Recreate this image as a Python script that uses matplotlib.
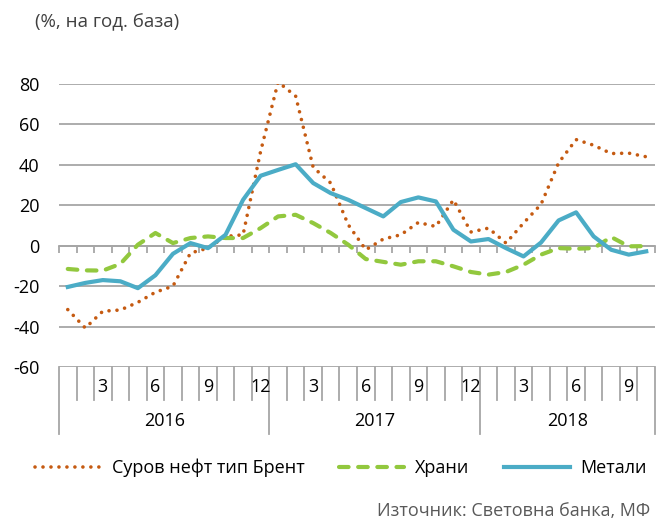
import numpy as np
import matplotlib
matplotlib.use("Agg")
import matplotlib.pyplot as plt

plt.rcParams['font.family'] = ['Open Sans', 'DejaVu Sans']
plt.rcParams['axes.unicode_minus'] = False

# months Jan 2016 .. Oct 2018
years = ['2016', '2017', '2018']
months_per_year = [12, 12, 10]
month_labels = ['', '', '3', '', '', '6', '', '', '9', '', '', '12']

brent = [-31.6, -40.7, -32.4, -31.8, -28.0, -23.0, -20.0, -3.6, -1.2, 4.6, 5.4, 46.6,
         81.0, 74.0, 38.8, 31.0, 10.4, -2.0, 3.3, 5.4, 11.5, 9.5, 22.7, 6.8,
         8.7, 1.3, 11.2, 20.5, 41.0, 52.5, 49.7, 45.6, 45.8, 44.0]
food = [-11.5, -12.2, -12.3, -9.0, 0.5, 6.3, 1.3, 3.8, 4.6, 3.8, 3.8, 8.7,
        14.5, 15.3, 11.2, 6.3, 0.5, -6.6, -8.0, -9.4, -7.7, -7.7, -10.2, -13.0,
        -14.3, -13.0, -9.4, -4.4, -1.2, -1.5, -1.2, 4.3, -0.3, -0.2]
metals = [-20.4, -18.4, -17.0, -17.6, -21.0, -14.6, -4.0, 1.3, -1.2, 5.4, 22.7, 34.6,
          37.5, 40.3, 31.0, 26.0, 22.7, 18.6, 14.5, 21.6, 23.9, 21.9, 7.9, 2.1,
          3.3, -1.2, -5.3, 1.6, 12.5, 16.5, 4.6, -2.0, -4.4, -2.8]

series_names = ['Суров нефт тип Брент', 'Храни', 'Метали']

GRID = '#A6A6A6'
FS = 13
n = len(brent)
x = np.arange(n)

fig = plt.figure(figsize=(6.57, 5.2), dpi=100)
ax = fig.add_axes([59 / 657, 1 - 367 / 520, 596 / 657, 283 / 520])

ax.plot(x, brent, color='#C55A11', lw=2.6, linestyle=(0, (0.01, 2.2)),
        dash_capstyle='round', label=series_names[0], zorder=3)
ax.plot(x, food, color='#92C83E', lw=3.0, linestyle=(0, (2.3, 2.3)),
        dash_capstyle='round', label=series_names[1], zorder=3)
ax.plot(x, metals, color='#4BACC6', lw=3.0, label=series_names[2], zorder=4)

ax.set_xlim(-0.5, n - 0.5)
ax.set_ylim(-60, 80)
ax.set_yticks(range(-60, 81, 20))
ax.yaxis.grid(True, color=GRID, lw=1.3)
ax.set_axisbelow(True)
ax.tick_params(axis='y', length=0, pad=14, labelsize=FS)

for s in ['top', 'right', 'left']:
    ax.spines[s].set_visible(False)
# category axis crosses at 0
ax.spines['bottom'].set_position(('data', 0))
ax.spines['bottom'].set_color(GRID)
ax.spines['bottom'].set_linewidth(1.3)
bounds = np.arange(n + 1) - 0.5
ax.set_xticks(bounds)
ax.set_xticklabels([])
ax.tick_params(axis='x', length=5, width=1.3, color=GRID, direction='out')

# multi-level category labels below the plot
tr = ax.get_xaxis_transform()
start = 0
for yr, cnt in zip(years, months_per_year):
    for k in range(cnt):
        xb = start + k - 0.5
        h = -0.237 if k == 0 else -0.117
        ax.plot([xb, xb], [0, h], transform=tr, color=GRID, lw=1.3, clip_on=False)
        lab = month_labels[k]
        if lab:
            ax.text(start + k, -0.07, lab, transform=tr, ha='center', va='center',
                    fontsize=FS)
    ax.text(start + (cnt - 1) / 2, -0.19, yr, transform=tr, ha='center',
            va='center', fontsize=FS)
    start += cnt
ax.plot([n - 0.5, n - 0.5], [0, -0.237], transform=tr, color=GRID, lw=1.3,
        clip_on=False)

fig.text(35 / 657, 1 - 22 / 520, '(%, на год. база)', fontsize=13.5,
         color='#404040', va='center', ha='left')

fig.legend(loc='center', bbox_to_anchor=(341 / 657, 1 - 468 / 520), ncol=3,
           frameon=False, fontsize=FS, handlelength=3.65, handletextpad=0.6,
           columnspacing=1.9)

fig.text(650 / 657, 1 - 511 / 520, 'Източник: Световна банка, МФ', fontsize=FS,
         color='#595959', ha='right', va='center')

fig.savefig('out.png', dpi=100)
